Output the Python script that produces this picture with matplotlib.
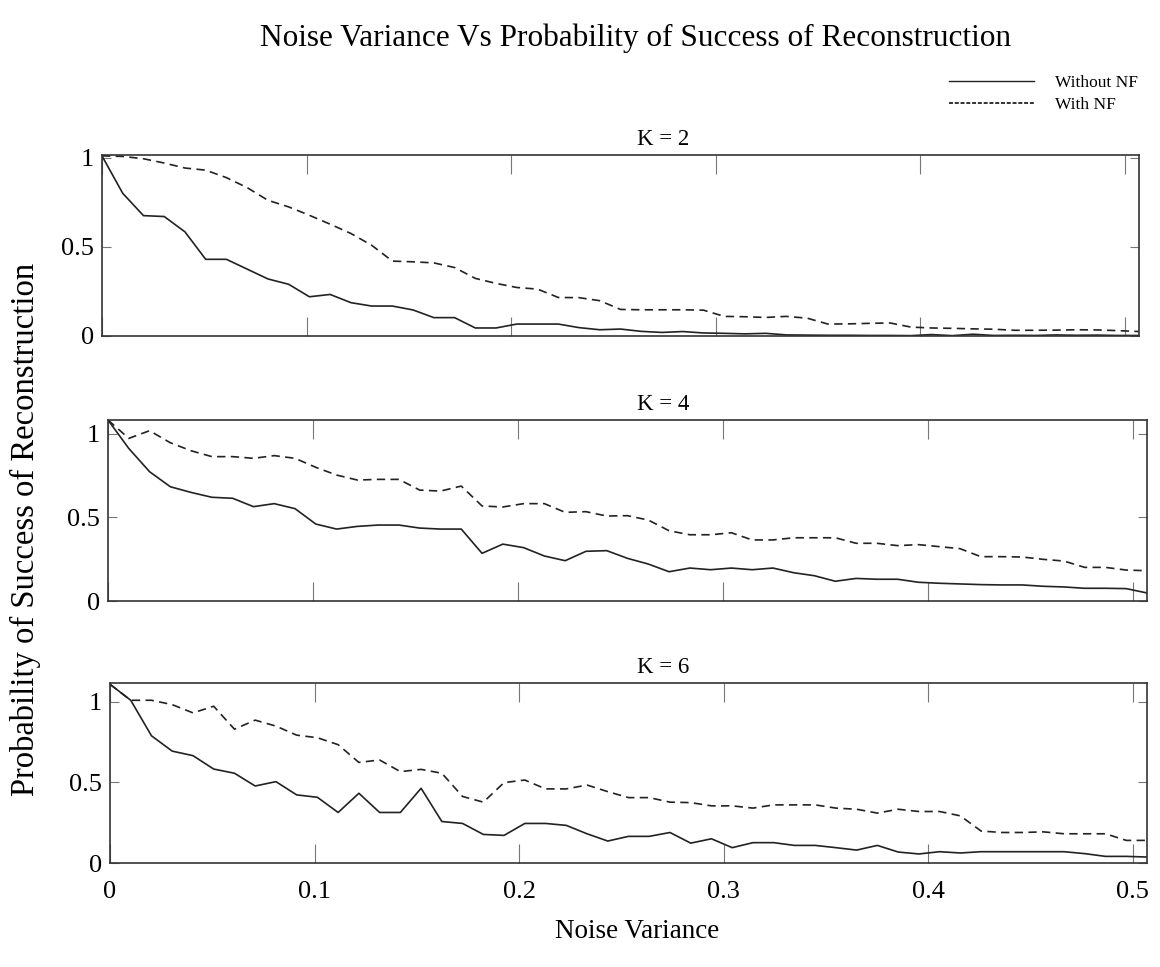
import numpy as np
import matplotlib
matplotlib.use('Agg')
from matplotlib import pyplot as plt
from matplotlib.lines import Line2D

plt.rcParams['font.family'] = ['Liberation Serif', 'DejaVu Serif']

# noise variance samples (51 points, run to the right edge of the box)
noise_var = np.linspace(0.0, 0.507, 51)

# K = 2
k2_without = [1.01, 0.80, 0.675, 0.67, 0.584, 0.43, 0.43, 0.375, 0.32, 0.29,
              0.22, 0.233, 0.187, 0.168, 0.168, 0.146, 0.103, 0.103, 0.045, 0.045,
              0.067, 0.067, 0.067, 0.047, 0.035, 0.039, 0.026, 0.02, 0.025, 0.017,
              0.015, 0.012, 0.015, 0.006, 0.005, 0.004, 0.004, 0.003, 0.003, 0.002,
              0.008, 0.002, 0.01, 0.003, 0.004, 0.003, 0.006, 0.004, 0.005, 0.003,
              0.003]
k2_with = [1.01, 1.007, 0.994, 0.97, 0.942, 0.93, 0.888, 0.832, 0.761, 0.724,
           0.677, 0.627, 0.575, 0.509, 0.42, 0.416, 0.41, 0.384, 0.323, 0.295,
           0.272, 0.263, 0.216, 0.215, 0.198, 0.149, 0.147, 0.147, 0.147, 0.145,
           0.11, 0.108, 0.104, 0.11, 0.1, 0.067, 0.068, 0.071, 0.073, 0.05,
           0.045, 0.043, 0.04, 0.038, 0.032, 0.032, 0.033, 0.035, 0.034, 0.03,
           0.025]

# K = 4
k4_without = [1.082, 0.912, 0.773, 0.683, 0.649, 0.62, 0.614, 0.564, 0.582, 0.552,
              0.46, 0.43, 0.446, 0.454, 0.454, 0.436, 0.43, 0.43, 0.285, 0.34,
              0.319, 0.269, 0.241, 0.297, 0.301, 0.255, 0.221, 0.175, 0.197, 0.187,
              0.197, 0.187, 0.197, 0.169, 0.151, 0.118, 0.135, 0.13, 0.13, 0.112,
              0.106, 0.102, 0.098, 0.096, 0.096, 0.088, 0.084, 0.076, 0.076, 0.074,
              0.048]
k4_with = [1.082, 0.972, 1.018, 0.946, 0.898, 0.863, 0.863, 0.853, 0.869, 0.853,
           0.799, 0.753, 0.723, 0.727, 0.727, 0.663, 0.657, 0.687, 0.568, 0.562,
           0.582, 0.582, 0.53, 0.534, 0.508, 0.51, 0.484, 0.42, 0.396, 0.396,
           0.408, 0.365, 0.365, 0.378, 0.378, 0.378, 0.345, 0.345, 0.331, 0.337,
           0.325, 0.313, 0.265, 0.265, 0.263, 0.249, 0.239, 0.201, 0.201, 0.185,
           0.181]

# K = 6
k6_without = [1.107, 1.008, 0.788, 0.693, 0.665, 0.582, 0.556, 0.477, 0.504, 0.422,
              0.407, 0.313, 0.432, 0.313, 0.313, 0.463, 0.257, 0.245, 0.177, 0.171,
              0.245, 0.245, 0.233, 0.181, 0.136, 0.165, 0.165, 0.189, 0.123, 0.15,
              0.095, 0.126, 0.126, 0.109, 0.109, 0.095, 0.08, 0.109, 0.068, 0.056,
              0.07, 0.062, 0.07, 0.07, 0.07, 0.07, 0.07, 0.058, 0.041, 0.041,
              0.037]
k6_with = [1.107, 1.008, 1.008, 0.981, 0.93, 0.971, 0.829, 0.885, 0.848, 0.792,
           0.776, 0.733, 0.623, 0.638, 0.566, 0.58, 0.556, 0.412, 0.377, 0.498,
           0.514, 0.459, 0.459, 0.483, 0.442, 0.405, 0.405, 0.377, 0.374, 0.354,
           0.354, 0.34, 0.36, 0.36, 0.36, 0.34, 0.333, 0.309, 0.333, 0.319,
           0.319, 0.292, 0.198, 0.189, 0.189, 0.193, 0.181, 0.181, 0.181, 0.14,
           0.14]

panel_titles = ['K = 2', 'K = 4', 'K = 6']
y_tops = [1.015, 1.082, 1.115]
x_ticks = [0, 0.1, 0.2, 0.3, 0.4, 0.5]
x_ticklabels = ['0', '0.1', '0.2', '0.3', '0.4', '0.5']
y_ticks = [0, 0.5, 1]
y_ticklabels = ['0', '0.5', '1']

W, H = 1160, 967
fig = plt.figure(figsize=(W / 100, H / 100), dpi=100)

# panel boxes in pixels: left, right, top, bottom
boxes = [(102, 1139, 155, 336), (108, 1147, 420, 601), (110, 1147, 683, 863)]
series = [(k2_without, k2_with), (k4_without, k4_with), (k6_without, k6_with)]

line_col = '#222222'
for n, ((l, r, t, b), (wo, wi)) in enumerate(zip(boxes, series)):
    ax = fig.add_axes([l / W, (H - b) / H, (r - l) / W, (b - t) / H])
    ax.plot(noise_var, wo, color=line_col, lw=1.2)
    ax.plot(noise_var, wi, color=line_col, lw=1.2, dashes=(5, 3.2))
    ax.set_xlim(0, 0.507)
    ax.set_ylim(0, y_tops[n])
    ax.set_xticks(x_ticks)
    ax.set_yticks(y_ticks)
    ax.set_yticklabels(y_ticklabels)
    if n == 2:
        ax.set_xticklabels(x_ticklabels)
    else:
        ax.set_xticklabels([])
    ax.tick_params(axis='x', direction='in', top=True, length=13.5, width=0.8,
                   color='#777777', labelsize=19, pad=13)
    ax.tick_params(axis='y', direction='in', right=True, length=6.5, width=0.8,
                   color='#777777', labelsize=19, pad=6)
    for sp in ax.spines.values():
        sp.set_color('#333333')
        sp.set_linewidth(1.2)
    ax.set_title(panel_titles[n], fontsize=16.5, pad=7, x=(663 - l) / (r - l))

fig.text(636 / W, 1 - 38 / H, 'Noise Variance Vs Probability of Success of Reconstruction',
         ha='center', va='center', fontsize=22.5)
fig.text(637 / W, 1 - 932 / H, 'Noise Variance', ha='center', va='center', fontsize=19.5)
fig.text(25 / W, 1 - 529 / H, 'Probability of Success of Reconstruction',
         ha='center', va='center', rotation=90, fontsize=23.5)

handles = [Line2D([], [], color=line_col, lw=1.0),
           Line2D([], [], color=line_col, lw=1.3, dashes=(2.2, 1.0))]
fig.legend(handles, ['Without NF', 'With NF'], loc='upper right',
           bbox_to_anchor=(1145 / W, 1 - 68 / H), frameon=False, fontsize=12.5,
           handlelength=4.9, handletextpad=1.2, labelspacing=0.35, borderaxespad=0)

fig.savefig('out.png', dpi=100)
